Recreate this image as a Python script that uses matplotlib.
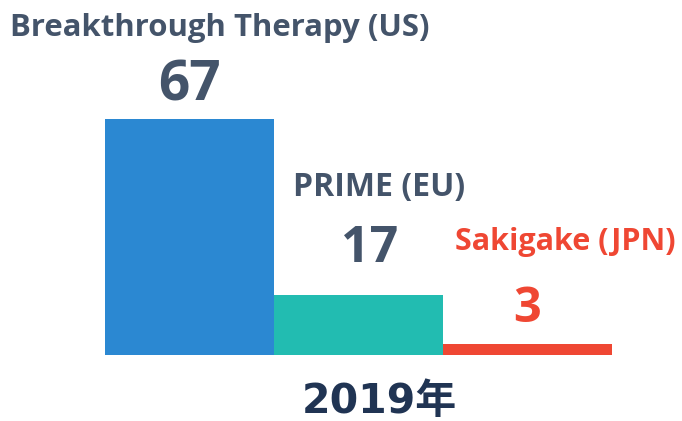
import matplotlib
matplotlib.use("Agg")
import matplotlib.pyplot as plt

categories = ["Breakthrough Therapy (US)", "PRIME (EU)", "Sakigake (JPN)"]
values = [67, 17, 3]
year_label = "2019年"

bar_colors = ["#2b88d2", "#22bcb1", "#ef4733"]
text_colors = ["#44546a", "#44546a", "#ef4733"]

W, H, DPI = 682, 421, 100
fig = plt.figure(figsize=(W / DPI, H / DPI), dpi=DPI)
# axes in pixel space: x 105..612, bottom at y=355 from top
ax = fig.add_axes([105 / W, (H - 355) / H, (612 - 105) / W, 355 / H])
ax.set_xlim(-0.5, len(values) - 0.5)
ax.set_ylim(0, 355 / 3.515)
ax.axis("off")

x = list(range(len(values)))
ax.bar(x, values, width=1.0, color=bar_colors, linewidth=0)

# offsets (points) for labels relative to bar top-center
val_off = [(0, 14), (8.3, 24), (0, 16)]
cat_off = [(22, 60), (14.8, 71.4), (27, 68)]
val_sizes = [39.5, 36, 35]
cat_sizes = [22.4, 23, 22]

font = "Open Sans"
for i, v in enumerate(values):
    ax.annotate(str(v), xy=(i, v), xytext=val_off[i], textcoords="offset points",
                ha="center", va="baseline", fontsize=val_sizes[i], fontweight="bold",
                color=text_colors[i], family=font)
    ax.annotate(categories[i], xy=(i, v), xytext=cat_off[i], textcoords="offset points",
                ha="center", va="baseline", fontsize=cat_sizes[i], fontweight="bold",
                color=text_colors[i], family=font)

fig.text(379 / W, 1 - 413 / H, year_label, ha="center", va="baseline",
         fontsize=29.5, fontweight="bold", color="#203453",
         family=["DejaVu Sans", "Noto Sans CJK JP"])

fig.savefig("out.png", dpi=DPI)
